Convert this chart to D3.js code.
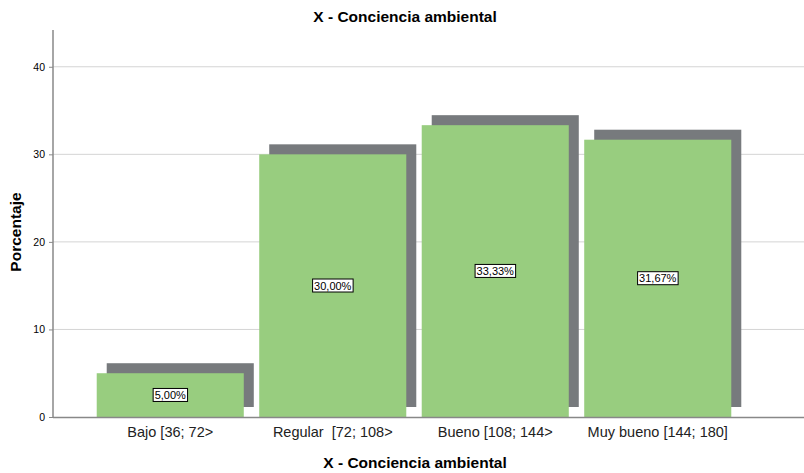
<!DOCTYPE html>
<html>
<head>
<meta charset="utf-8">
<script src="https://cdn.jsdelivr.net/npm/d3@7"></script>
<style>
  body { margin: 0; background: #fff; }
  svg { display: block; font-family: "Liberation Sans", Arial, sans-serif; }
</style>
</head>
<body>
<svg id="chart" width="804" height="473"></svg>
<script>
// ── data ──
const categories = ['Bajo [36; 72>', 'Regular  [72; 108>', 'Bueno [108; 144>', 'Muy bueno [144; 180]'];
const percents = [5.00, 30.00, 33.33, 31.67];
const yTicks = [0, 10, 20, 30, 40];

const W = 804, H = 473;
const svg = d3.select('#chart');

const y = d3.scaleLinear().domain([0, 44.2]).range([417, 30]);
const x = d3.scaleBand().domain(categories).range([89, 739])
  .paddingInner(0.095).paddingOuter(0.0475);

// Grid
svg.append('g').selectAll('line')
  .data(yTicks.filter(d => d > 0))
  .join('line')
  .attr('x1', 53).attr('x2', 806)
  .attr('y1', d => y(d)).attr('y2', d => y(d))
  .attr('stroke', '#d4d4d4').attr('stroke-width', 1);

// Shadows
const off = 10;
svg.append('g').selectAll('rect')
  .data(percents)
  .join('rect')
  .attr('x', (d, i) => x(categories[i]) + off)
  .attr('y', d => y(d) - off)
  .attr('width', x.bandwidth())
  .attr('height', d => y(0) - y(d))
  .attr('fill', '#777a7d');

// Bars
svg.append('g').selectAll('rect')
  .data(percents)
  .join('rect')
  .attr('x', (d, i) => x(categories[i]))
  .attr('y', d => y(d))
  .attr('width', x.bandwidth())
  .attr('height', d => y(0) - y(d))
  .attr('fill', '#98cd7f');

// Axes
const yAxis = svg.append('g')
  .attr('transform', 'translate(53,0)')
  .call(d3.axisLeft(y).tickValues(yTicks).tickSize(4).tickPadding(4).tickFormat(d3.format('d')));
yAxis.select('.domain').remove();
yAxis.selectAll('.tick line').attr('stroke', '#888');
yAxis.selectAll('text').attr('font-size', 10.5).attr('fill', '#000').attr('font-family', '"Liberation Sans", Arial, sans-serif');

svg.append('line')
  .attr('x1', 53).attr('x2', 53).attr('y1', 30).attr('y2', 417.5)
  .attr('stroke', '#888').attr('stroke-width', 1.5);
svg.append('line')
  .attr('x1', 53).attr('x2', 806).attr('y1', 417.5).attr('y2', 417.5)
  .attr('stroke', '#888').attr('stroke-width', 1.5);

const xAxis = svg.append('g')
  .attr('transform', 'translate(0,417)')
  .call(d3.axisBottom(x).tickSize(0).tickPadding(10));
xAxis.select('.domain').remove();
xAxis.selectAll('text')
  .attr('font-size', 14.5).attr('fill', '#222')
  .attr('font-family', '"Liberation Sans", Arial, sans-serif')
  .attr('dy', '0.71em')
  .style('white-space', 'pre')
  .attr('xml:space', 'preserve');

// Value labels
const labels = svg.append('g').selectAll('g')
  .data(percents)
  .join('g')
  .attr('transform', (d, i) => `translate(${x(categories[i]) + x.bandwidth() / 2},${(y(d) + y(0)) / 2})`);
labels.append('text')
  .attr('text-anchor', 'middle')
  .attr('dy', '0.35em')
  .attr('font-size', 11)
  .text(d => d.toFixed(2).replace('.', ',') + '%');
labels.each(function () {
  const g = d3.select(this);
  const b = g.select('text').node().getBBox();
  g.insert('rect', 'text')
    .attr('x', b.x - 1.5).attr('y', b.y - 0.5)
    .attr('width', b.width + 3).attr('height', b.height + 1)
    .attr('fill', '#fff').attr('stroke', '#000').attr('stroke-width', 1);
});

// Titles
svg.append('text')
  .attr('x', 405).attr('y', 22)
  .attr('text-anchor', 'middle')
  .attr('font-size', 15.5).attr('font-weight', 'bold')
  .text('X - Conciencia ambiental');

svg.append('text')
  .attr('x', 415).attr('y', 468)
  .attr('text-anchor', 'middle')
  .attr('font-size', 15.5).attr('font-weight', 'bold')
  .text('X - Conciencia ambiental');

svg.append('text')
  .attr('transform', 'translate(21,232) rotate(-90)')
  .attr('text-anchor', 'middle')
  .attr('font-size', 15.5).attr('font-weight', 'bold')
  .text('Porcentaje');
</script>
</body>
</html>
